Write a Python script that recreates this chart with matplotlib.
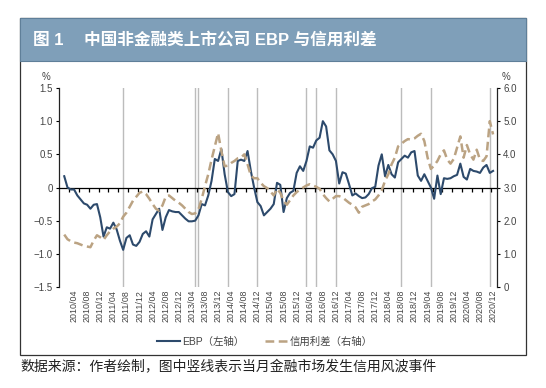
import numpy as np
import matplotlib
matplotlib.use("Agg")
from matplotlib import pyplot as plt
from matplotlib.patches import Rectangle
from matplotlib.lines import Line2D

plt.rcParams['font.family'] = ['Liberation Sans', 'Noto Sans CJK SC']
plt.rcParams['axes.unicode_minus'] = True

# Monthly data, 2010/01 .. 2020/12
months = [f"{y}/{m:02d}" for y in range(2010, 2021) for m in range(1, 13)]

# EBP, left axis (%)
ebp = [
    0.17, 0.00, -0.03, -0.03, -0.12, -0.18, -0.24, -0.26, -0.32, -0.26, -0.25, -0.45,
    -0.74, -0.60, -0.62, -0.53, -0.63, -0.80, -0.94, -0.76, -0.72, -0.86, -0.88, -0.82,
    -0.70, -0.66, -0.74, -0.48, -0.40, -0.32, -0.64, -0.45, -0.34, -0.36, -0.37, -0.37,
    -0.42, -0.47, -0.51, -0.51, -0.50, -0.42, -0.25, -0.27, -0.12, 0.10, 0.43, 0.40,
    0.58, 0.20, -0.07, -0.13, -0.10, 0.40, 0.42, 0.40, 0.55, 0.25, 0.00, -0.22,
    -0.28, -0.42, -0.37, -0.32, -0.25, 0.07, 0.04, -0.37, -0.16, -0.08, -0.05, 0.22,
    0.32, 0.25, 0.40, 0.62, 0.60, 0.71, 0.75, 1.00, 0.92, 0.56, 0.50, 0.40,
    0.06, 0.23, 0.21, 0.05, -0.12, -0.09, -0.13, -0.16, -0.15, -0.10, -0.01, 0.01,
    0.33, 0.50, 0.17, 0.34, 0.20, 0.15, 0.38, 0.43, 0.48, 0.45, 0.53, 0.55,
    0.18, 0.10, 0.20, 0.10, 0.00, -0.17, 0.18, -0.10, 0.14, 0.13, 0.14, 0.17,
    0.19, 0.36, 0.16, 0.12, 0.28, 0.25, 0.24, 0.22, 0.30, 0.34, 0.22, 0.25,
]

# credit spread, right axis (%)
spread = [
    1.58, 1.44, 1.38, 1.34, 1.32, 1.28, 1.24, 1.22, 1.20, 1.40, 1.56, 1.50,
    1.42, 1.56, 1.68, 1.76, 1.82, 1.92, 2.12, 2.24, 2.42, 2.60, 2.72, 2.84,
    2.88, 2.80, 2.66, 2.50, 2.36, 2.30, 2.46, 2.72, 2.76, 2.68, 2.60, 2.54,
    2.46, 2.36, 2.26, 2.20, 2.22, 2.34, 2.66, 3.04, 3.40, 3.84, 4.24, 4.64,
    4.10, 3.64, 3.66, 3.74, 3.80, 3.88, 3.90, 4.00, 3.70, 3.36, 3.28, 3.28,
    3.14, 3.04, 2.98, 2.88, 2.76, 2.96, 2.84, 2.60, 2.48, 2.62, 2.76, 2.86,
    2.94, 3.00, 3.06, 3.10, 3.06, 3.02, 2.96, 2.80, 2.68, 2.58, 2.66, 2.74,
    2.74, 2.70, 2.62, 2.54, 2.48, 2.40, 2.24, 2.42, 2.46, 2.50, 2.58, 2.64,
    2.76, 2.92, 3.20, 3.40, 3.70, 3.90, 4.24, 4.32, 4.40, 4.46, 4.44, 4.48,
    4.56, 4.62, 4.40, 3.90, 3.56, 3.66, 3.80, 4.00, 4.12, 3.84, 3.72, 3.86,
    4.20, 4.54, 3.90, 4.28, 4.00, 3.84, 4.14, 3.84, 3.80, 3.94, 5.00, 4.60,
]

# months with credit events (vertical lines)
events = ["2011/07", "2013/05", "2013/06", "2014/03", "2014/12", "2016/03",
          "2016/06", "2016/12", "2018/08", "2019/05", "2020/11"]

left_ticks = [1.5, 1.0, 0.5, 0, -0.5, -1.0, -1.5]
left_labels = ["1.5", "1.0", "0.5", "0", "\u22120.5", "\u22121.0", "\u22121.5"]
right_ticks = [6, 5, 4, 3, 2, 1, 0]
right_labels = ["6.0", "5.0", "4.0", "3.0", "2.0", "1.0", "0"]

navy = "#2d4a6c"
tan = "#bba383"
txt = "#444444"

x = np.arange(len(months))
label_pos = [i for i, s in enumerate(months) if s[-2:] in ("04", "08", "12")]
label_txt = [months[i] for i in label_pos]

fig = plt.figure(figsize=(5.46, 3.88), dpi=100)

# outer frame and title band
fig.patches.append(Rectangle((20/546, 1-355/388), 506/546, 337/388, transform=fig.transFigure,
                             fill=False, edgecolor="#333333", linewidth=0.9))
fig.patches.append(Rectangle((20/546, 1-61/388), 506/546, 43/388, transform=fig.transFigure,
                             facecolor="#7f9fb9", edgecolor="#5f7f99", linewidth=0.8))
fig.text(33/546, 1-40/388, "图 1", color="white", fontsize=12, fontweight="bold", va="center")
fig.text(84/546, 1-40/388, "中国非金融类上市公司 EBP 与信用利差", color="white",
         fontsize=12, fontweight="bold", va="center")
fig.text(20/546, 1-367/388, "数据来源：作者绘制，图中竖线表示当月金融市场发生信用风波事件",
         color="#222222", fontsize=10, va="center")

ax = fig.add_axes([59/546, 1-287/388, 438/546, 199/388])
ax2 = ax.twinx()

for e in events:
    ax.axvline(months.index(e), color="#bcbcbc", linewidth=1.0, zorder=1)

ax.plot(x, ebp, color=navy, linewidth=1.5, zorder=3)
ax2.plot(x, spread, color=tan, linewidth=1.8, dashes=(3.5, 1.8), zorder=3)

ax.set_xlim(-1.6, 132.2)
ax.set_ylim(-1.5, 1.5)
ax2.set_ylim(0, 6)

ax.set_yticks(left_ticks, labels=left_labels)
ax2.set_yticks(right_ticks, labels=right_labels)

for a in (ax, ax2):
    a.spines["top"].set_visible(False)
ax2.spines["bottom"].set_visible(False)
ax2.spines["left"].set_visible(False)
ax.spines["right"].set_visible(False)
ax.spines["bottom"].set_position(("data", 0))
ax.spines["bottom"].set_color("black")
ax.spines["left"].set_color("#222222")
ax2.spines["right"].set_color("#222222")
for s in ("bottom", "left"):
    ax.spines[s].set_linewidth(0.9)
ax2.spines["right"].set_linewidth(0.9)

ax.set_xticks(np.arange(1.5, 132, 3))
ax.tick_params(axis="x", labelbottom=False, length=2.8, width=0.9, direction="out", color="black")
ax.tick_params(axis="y", length=2.5, width=0.8, labelsize=7, labelcolor=txt, pad=2)
ax2.tick_params(axis="y", length=2.5, width=0.8, labelsize=7, labelcolor=txt, pad=2)

sec = ax.secondary_xaxis("bottom")
sec.set_xticks(label_pos, labels=label_txt, rotation=90)
sec.tick_params(length=0, pad=2, labelsize=6.4, labelcolor=txt)
sec.spines["bottom"].set_visible(False)

ax.text(-0.03, 1.04, "%", transform=ax.transAxes, fontsize=7, color=txt, ha="center")
ax2.text(1.02, 1.04, "%", transform=ax2.transAxes, fontsize=7, color=txt, ha="center")

handles = [Line2D([], [], color=navy, linewidth=1.5),
           Line2D([], [], color=tan, linewidth=1.8, dashes=(3.5, 1.8))]
fig.legend(handles, ["EBP（左轴）", "信用利差（右轴）"], loc="center",
           bbox_to_anchor=(265/546, 1-342/388), ncol=2, frameon=False,
           fontsize=7.5, labelcolor=txt, handlelength=2.2, columnspacing=2.0,
           handletextpad=0.2)

fig.savefig("out.png", dpi=100)
